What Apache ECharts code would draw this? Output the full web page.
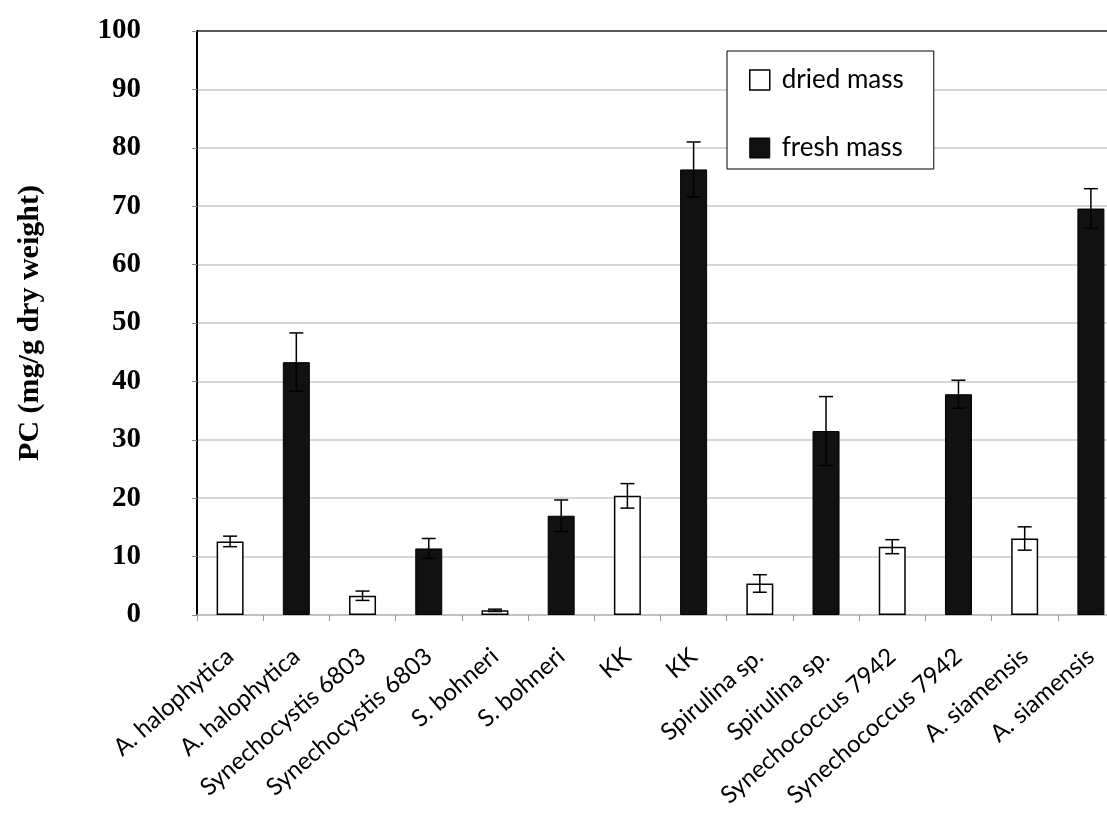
<!DOCTYPE html>
<html>
<head>
<meta charset="utf-8">
<script src="https://cdn.jsdelivr.net/npm/echarts@6/dist/echarts.min.js"></script>
<style>
  html, body { margin: 0; padding: 0; background: #fff; }
  #chart { width: 1107px; height: 819px; }
</style>
</head>
<body>
<div id="chart"></div>
<script>
// strains, each shown twice (dried / fresh)
const strains = [
  'A. halophytica', 'A. halophytica',
  'Synechocystis 6803', 'Synechocystis 6803',
  'S. bohneri', 'S. bohneri',
  'KK', 'KK',
  'Spirulina sp.', 'Spirulina sp.',
  'Synechococcus 7942', 'Synechococcus 7942',
  'A. siamensis', 'A. siamensis'
];
const massType = ['dried', 'fresh', 'dried', 'fresh', 'dried', 'fresh', 'dried', 'fresh',
  'dried', 'fresh', 'dried', 'fresh', 'dried', 'fresh'];
// PC (mg/g dry weight)
const pcValues = [12.6, 43.3, 3.3, 11.4, 0.8, 17.0, 20.4, 76.3, 5.4, 31.5, 11.7, 37.8, 13.1, 69.6];
const pcErrors = [0.9, 5.0, 0.8, 1.7, 0.2, 2.7, 2.1, 4.7, 1.5, 5.9, 1.2, 2.4, 2.0, 3.4];
const yTicks = [0, 10, 20, 30, 40, 50, 60, 70, 80, 90, 100];

const chart = echarts.init(document.getElementById('chart'));

const driedData = pcValues.map((v, i) => massType[i] === 'dried' ? v : '-');
const freshData = pcValues.map((v, i) => massType[i] === 'fresh' ? v : '-');
const errData = pcValues.map((v, i) => [i, v - pcErrors[i], v + pcErrors[i]]);

// grid lines grey, the top one (100) dark
const splitColors = yTicks.map(t => t === 100 ? '#222' : '#c8c8c8');

function renderErr(params, api) {
  const x = api.value(0);
  const lo = api.coord([x, api.value(1)]);
  const hi = api.coord([x, api.value(2)]);
  const cap = 7;
  const style = { stroke: '#000', lineWidth: 1.5 };
  return {
    type: 'group',
    children: [
      { type: 'line', shape: { x1: hi[0], y1: hi[1], x2: lo[0], y2: lo[1] }, style: style },
      { type: 'line', shape: { x1: hi[0] - cap, y1: hi[1], x2: hi[0] + cap, y2: hi[1] }, style: style },
      { type: 'line', shape: { x1: lo[0] - cap, y1: lo[1], x2: lo[0] + cap, y2: lo[1] }, style: style }
    ]
  };
}

const option = {
  backgroundColor: '#fff',
  animation: false,
  grid: {
    left: 197,
    right: -17,
    top: 31,
    bottom: 204,
    outerBoundsMode: 'none'
  },
  legend: {
    orient: 'vertical',
    left: 727,
    top: 51,
    backgroundColor: '#fff',
    borderColor: '#000',
    borderWidth: 1,
    padding: [16, 30, 8, 22],
    itemGap: 42,
    itemWidth: 20,
    itemHeight: 20,
    icon: 'rect',
    textStyle: { fontFamily: 'Lato', fontSize: 26, color: '#000', padding: [0, 0, 0, 7] },
    data: [
      { name: 'dried mass', itemStyle: { color: '#fff', borderColor: '#000', borderWidth: 1.5 } },
      { name: 'fresh mass', itemStyle: { color: '#111', borderColor: '#000', borderWidth: 1 } }
    ]
  },
  xAxis: {
    type: 'category',
    data: strains,
    axisLine: { lineStyle: { color: '#bbb', width: 1.5 } },
    axisTick: { show: true, interval: 0, length: 6, lineStyle: { color: '#999' } },
    axisLabel: {
      interval: 0,
      rotate: 41,
      margin: 38,
      fontFamily: 'Lato',
      fontSize: 24,
      color: '#000'
    }
  },
  yAxis: {
    type: 'value',
    min: 0,
    max: 100,
    interval: 10,
    name: 'PC (mg/g dry weight)',
    nameLocation: 'middle',
    nameGap: 152,
    nameTextStyle: { fontFamily: 'Liberation Serif', fontWeight: 'bold', fontSize: 30, color: '#000' },
    axisLine: { show: true, lineStyle: { color: '#000', width: 2 } },
    axisTick: { show: true, length: 5, lineStyle: { color: '#888' } },
    axisLabel: {
      margin: 56,
      fontFamily: 'Liberation Serif',
      fontWeight: 'bold',
      fontSize: 29,
      color: '#000'
    },
    splitLine: { show: true, lineStyle: { color: splitColors, width: 1.5 } }
  },
  series: [
    {
      name: 'dried mass',
      type: 'bar',
      data: driedData,
      barWidth: 27,
      barGap: '-100%',
      itemStyle: { color: '#fff', borderColor: '#000', borderWidth: 1.5 }
    },
    {
      name: 'fresh mass',
      type: 'bar',
      data: freshData,
      barWidth: 27,
      itemStyle: { color: '#111', borderColor: '#000', borderWidth: 1 }
    },
    {
      name: 'error',
      type: 'custom',
      renderItem: renderErr,
      data: errData,
      z: 5
    }
  ]
};

chart.setOption(option);
</script>
</body>
</html>
